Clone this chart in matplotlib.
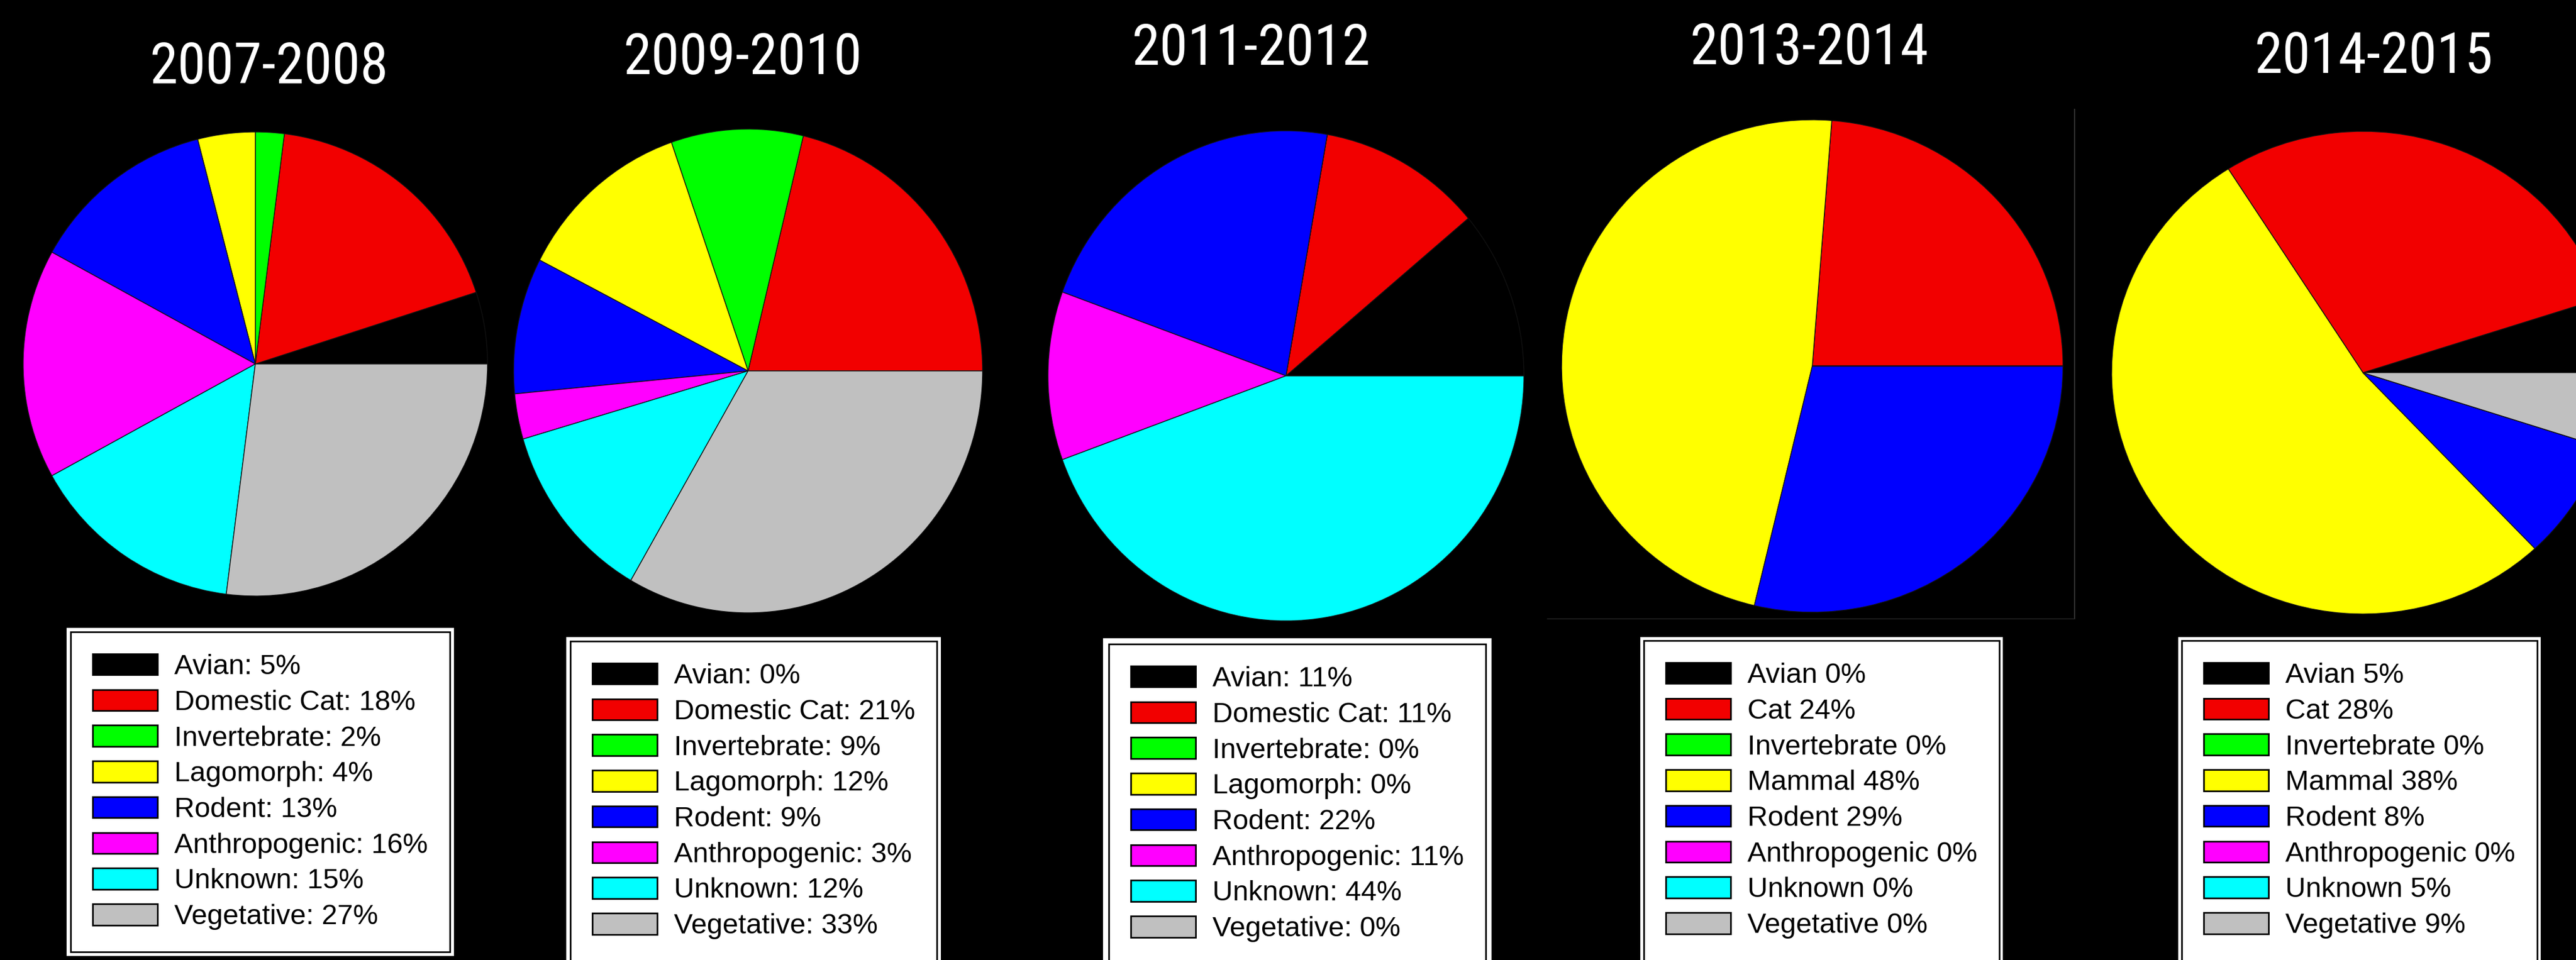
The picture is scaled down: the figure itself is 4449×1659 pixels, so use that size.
import matplotlib
matplotlib.use("Agg")
import matplotlib.pyplot as plt
from matplotlib.patches import Patch, Rectangle
from matplotlib.lines import Line2D
from matplotlib import font_manager
from matplotlib.font_manager import FontProperties

# ---------------- data ----------------
titles = ["2007-2008", "2009-2010", "2011-2012", "2013-2014", "2014-2015"]
colors = ["#000000", "#f20000", "#00ff00", "#ffff00", "#0000ff", "#ff00ff", "#00ffff", "#c0c0c0"]

# slice sizes as drawn (percent), order: Avian, Cat, Invertebrate, Lagomorph/Mammal,
# Rodent, Anthropogenic, Unknown, Vegetative
pie_2007 = [5, 18, 2, 4, 13, 16, 15, 27]
pie_2009 = [0, 21, 9, 12, 9, 3, 12, 33]
pie_2011 = [11, 11, 0, 0, 22, 11, 44, 0]
pie_2013 = [0, 24, 0, 48, 29, 0, 0, 0]
pie_2014 = [5, 29, 0, 53, 8, 0, 0, 5]

labels_2007 = ["Avian: 5%", "Domestic Cat: 18%", "Invertebrate: 2%", "Lagomorph: 4%",
               "Rodent: 13%", "Anthropogenic: 16%", "Unknown: 15%", "Vegetative: 27%"]
labels_2009 = ["Avian: 0%", "Domestic Cat: 21%", "Invertebrate: 9%", "Lagomorph: 12%",
               "Rodent: 9%", "Anthropogenic: 3%", "Unknown: 12%", "Vegetative: 33%"]
labels_2011 = ["Avian: 11%", "Domestic Cat: 11%", "Invertebrate: 0%", "Lagomorph: 0%",
               "Rodent: 22%", "Anthropogenic: 11%", "Unknown: 44%", "Vegetative: 0%"]
labels_2013 = ["Avian 0%", "Cat 24%", "Invertebrate 0%", "Mammal 48%",
               "Rodent 29%", "Anthropogenic 0%", "Unknown 0%", "Vegetative 0%"]
labels_2014 = ["Avian 5%", "Cat 28%", "Invertebrate 0%", "Mammal 38%",
               "Rodent 8%", "Anthropogenic 0%", "Unknown 5%", "Vegetative 9%"]

pies = [pie_2007, pie_2009, pie_2011, pie_2013, pie_2014]
legend_labels = [labels_2007, labels_2009, labels_2011, labels_2013, labels_2014]

# ---------------- layout (pixels) ----------------
W, H = 4449, 1659
DPI = 100
pie_boxes = [(40, 228, 842, 1030), (887, 223, 1697, 1059), (1810, 226, 2632, 1073),
             (2697, 207, 3563, 1058), (3647, 227, 4515, 1061)]
title_pos = [(465, 144), (1283, 128), (2161, 112), (3125, 111), (4100, 126)]
legend_pos = [(122, 1092), (985, 1108), (1915, 1113), (2839, 1107), (3768, 1107)]
legend_margin = [7, 7, 10, 6, 6]


def fx(x):
    return x / W


def fy(y):
    return 1 - y / H


# ---- pick a narrow font for titles if one is installed ----
def pick_title_font():
    wanted = ["Liberation Sans Narrow", "Arial Narrow", "Roboto Condensed",
              "Open Sans Condensed", "Noto Sans Condensed", "DejaVu Sans Condensed"]
    tl = font_manager.fontManager.ttflist
    for name in wanted:
        for f in tl:
            if f.name == name and f.style == "normal" and f.weight in (400, "normal", "regular"):
                return FontProperties(fname=f.fname)
    for st in ("condensed", "semi-condensed", "extra-condensed"):
        for base in ("Noto Sans", "Roboto", "Open Sans", "Liberation Sans", "DejaVu Sans"):
            for f in tl:
                if (f.name == base and str(f.stretch) == st and f.style == "normal"
                        and f.weight in (400, "normal", "regular")):
                    return FontProperties(fname=f.fname)
    return FontProperties(family="Liberation Sans")


title_fp = pick_title_font()

fig = plt.figure(figsize=(W / DPI, H / DPI), dpi=DPI, facecolor="black")

for (l, t, r, b), vals in zip(pie_boxes, pies):
    ax = fig.add_axes([fx(l), fy(b), (r - l) / W, (b - t) / H])
    ax.pie(vals, colors=colors, startangle=0, counterclock=True,
           wedgeprops=dict(edgecolor="#111111", linewidth=1.0))
    ax.set_aspect("auto")
    ax.set_xlim(-1, 1)
    ax.set_ylim(-1, 1)
    ax.axis("off")

title_texts = []
for (x, y), t in zip(title_pos, titles):
    fp = title_fp.copy()
    fp.set_size(70)
    tx = fig.text(fx(x), fy(y), t, color="white", ha="center", va="baseline",
                  fontproperties=fp)
    title_texts.append(tx)

# thin frame lines around 2013-2014 pie
fig.add_artist(Line2D([fx(3583), fx(3583)], [fy(189), fy(1069)], color="#333333", lw=1.5))
fig.add_artist(Line2D([fx(2672), fx(3583)], [fy(1069), fy(1069)], color="#2a2a2a", lw=1.0))

legs = []
fs = 35
for (x, y), labs in zip(legend_pos, legend_labels):
    handles = [Patch(facecolor=c, edgecolor="black", linewidth=2.0) for c in colors]
    leg = fig.legend(handles, labs, loc="upper left",
                     bbox_to_anchor=(fx(x), fy(y)), bbox_transform=fig.transFigure,
                     borderaxespad=0, frameon=True, fancybox=False,
                     edgecolor="black", facecolor="white", framealpha=1,
                     prop={"family": "Liberation Sans", "size": fs},
                     handlelength=2.3, handleheight=0.78, handletextpad=0.6,
                     labelspacing=0.34, borderpad=0.78)
    leg.get_frame().set_linewidth(2.0)
    leg.set_zorder(6)
    legs.append(leg)

# fit the title size: width ~412 px, digit height at most ~77 px
fig.canvas.draw()
renderer = fig.canvas.get_renderer()
w0 = title_texts[0].get_window_extent(renderer).width
size = 70 * 412.0 / w0
size = min(size, 76)
for tx in title_texts:
    tx.set_fontsize(size)

for leg, m in zip(legs, legend_margin):
    bb = leg.get_window_extent(renderer)
    rect = Rectangle((bb.x0 - m, bb.y0 - m), bb.width + 2 * m, bb.height + 2 * m,
                     transform=None, facecolor="white", edgecolor="none", zorder=5)
    fig.add_artist(rect)

fig.savefig("out.png", dpi=DPI, facecolor="black")
